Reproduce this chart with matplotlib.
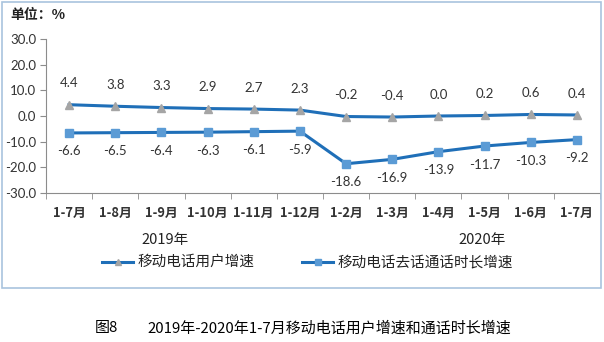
import matplotlib.pyplot as plt
from matplotlib.patches import Rectangle
from matplotlib.lines import Line2D

plt.rcParams['font.family'] = ['Noto Sans CJK SC', 'DejaVu Sans']

months = ["1-7月", "1-8月", "1-9月", "1-10月", "1-11月", "1-12月",
          "1-2月", "1-3月", "1-4月", "1-5月", "1-6月", "1-7月"]
users_growth = [4.4, 3.8, 3.3, 2.9, 2.7, 2.3, -0.2, -0.4, 0.0, 0.2, 0.6, 0.4]
call_growth = [-6.6, -6.5, -6.4, -6.3, -6.1, -5.9, -18.6, -16.9, -13.9, -11.7, -10.3, -9.2]
yticks = [30, 20, 10, 0, -10, -20, -30]
series_names = ["移动电话用户增速", "移动电话去话通话时长增速"]

line_color = "#1F6FB8"
axis_color = "#8C8C8C"
num_font = ['Lato', 'Noto Sans CJK SC']


def fx(px):
    return px / 604


def fy(py):
    return 1 - py / 342


fig = plt.figure(figsize=(6.04, 3.42), dpi=100)
ax = fig.add_axes([fx(46), fy(193), 554 / 604, 154 / 342])

x = list(range(len(months)))
ax.plot(x, users_growth, color=line_color, lw=2.2, marker="^", ms=6,
        mfc="#A5A5A5", mec="#A5A5A5", zorder=3)
ax.plot(x, call_growth, color=line_color, lw=2.2, marker="s", ms=6,
        mfc="#5B9BD5", mec="#5B9BD5", zorder=3)

for i, v in enumerate(users_growth):
    ax.annotate(f"{v:.1f}", (i, v), xytext=(0, 11), textcoords="offset points",
                ha="center", va="bottom", fontsize=9.5, family=num_font, color="#333333")
for i, v in enumerate(call_growth):
    ax.annotate(f"{v:.1f}", (i, v), xytext=(0, -9), textcoords="offset points",
                ha="center", va="top", fontsize=9.5, family=num_font, color="#333333")

ax.set_xlim(-0.5, len(months) - 0.5)
ax.set_ylim(-30, 30)
ax.set_yticks(yticks)
ax.set_yticklabels([f"{t:.1f}" for t in yticks], fontsize=9.5, family=num_font, color="#333333")
ax.set_xticks(x)
ax.set_xticklabels(months, fontsize=9.3, fontweight="bold", color="#333333")
ax.tick_params(axis="x", length=0, pad=9)
ax.set_xticks([i - 0.5 for i in range(len(months) + 1)], minor=True)
ax.tick_params(axis="x", which="minor", length=4, color=axis_color, direction="out")
ax.tick_params(axis="y", length=4, color=axis_color, pad=3)

for side in ["top", "right"]:
    ax.spines[side].set_visible(False)
for side in ["left", "bottom"]:
    ax.spines[side].set_color(axis_color)
    ax.spines[side].set_linewidth(0.8)

# chart frame and header
fig.patches.append(Rectangle((fx(2), fy(288)), 599 / 604, 286 / 342,
                             transform=fig.transFigure, fill=False,
                             edgecolor="#A9C4DE", lw=1.2))
fig.text(fx(10), fy(15), "单位：%", fontsize=10, fontweight="bold",
         va="center", ha="left", color="#222222")

fig.text(fx(165), fy(240), "2019年", fontsize=10.5, ha="center",
         va="center", color="#222222")
fig.text(fx(482), fy(240), "2020年", fontsize=10.5, ha="center",
         va="center", color="#222222")

# legend entries drawn in figure coordinates
legend_items = [(102, "^", "#A5A5A5"), (302, "s", "#5B9BD5")]
for (x0, mk, mc), name in zip(legend_items, series_names):
    fig.add_artist(Line2D([fx(x0), fx(x0 + 31)], [fy(262), fy(262)],
                          transform=fig.transFigure, color=line_color, lw=2.2))
    fig.add_artist(Line2D([fx(x0 + 15.5)], [fy(262)], transform=fig.transFigure,
                          marker=mk, ms=5, mfc=mc, mec=mc, lw=0))
    fig.text(fx(x0 + 35), fy(262), name, fontsize=10.5, ha="left",
             va="center", color="#222222")

fig.text(fx(95), fy(328), "图8", fontsize=10.8, ha="left", va="center")
fig.text(fx(147), fy(328), "2019年-2020年1-7月移动电话用户增速和通话时长增速",
         fontsize=10.8, ha="left", va="center")

fig.savefig("out.png", dpi=100)
